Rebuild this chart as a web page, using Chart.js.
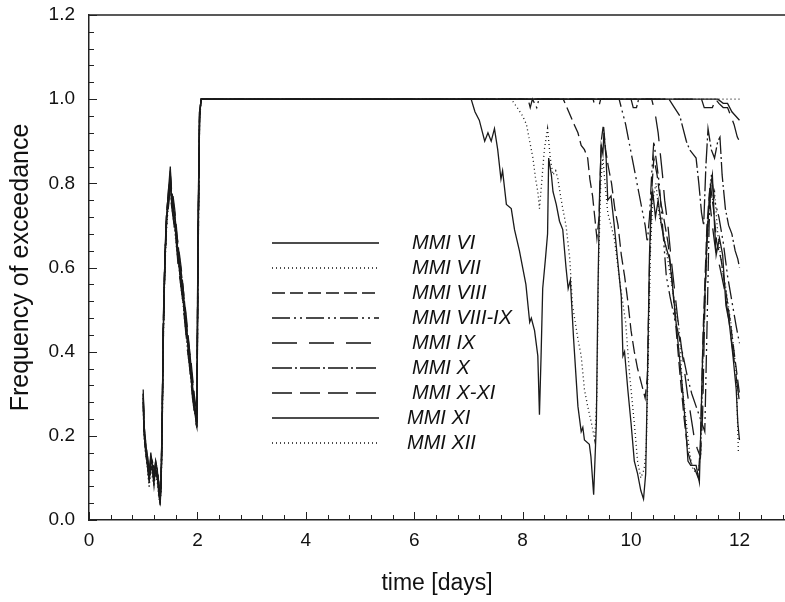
<!DOCTYPE html>
<html>
<head>
<meta charset="utf-8">
<script src="https://cdn.jsdelivr.net/npm/chart.js@4"></script>
<style>
  html, body { margin: 0; padding: 0; background: #fff; }
  #wrap { width: 785px; height: 602px; }
</style>
</head>
<body>
<div id="wrap"><canvas id="chart1" width="785" height="602"></canvas></div>
<script>
// tick labels
const xTickLabels = [0, 2, 4, 6, 8, 10, 12]
const yTickLabels = [0.0, 0.2, 0.4, 0.6, 0.8, 1.0, 1.2]

const seriesNames = ['MMI VI', 'MMI VII', 'MMI VIII', 'MMI VIII-IX', 'MMI IX', 'MMI X', 'MMI X-XI', 'MMI XI', 'MMI XII']

// first two days, shared time points
const earlyDays = [1.00,1.02,1.05,1.08,1.11,1.14,1.17,1.20,1.23,1.26,1.29,1.31,1.33,1.35,1.37,1.40,1.43,1.47,1.50,1.52,1.55,1.58,1.61,1.64,1.67,1.70,1.73,1.76,1.79,1.82,1.85,1.88,1.91,1.94,1.97,1.99,2.01,2.04,2.07]

const mmi6Early  = [0.31,0.21,0.18,0.14,0.10,0.16,0.13,0.11,0.14,0.12,0.07,0.04,0.09,0.25,0.45,0.62,0.72,0.79,0.84,0.77,0.75,0.72,0.68,0.64,0.61,0.58,0.55,0.50,0.47,0.43,0.40,0.36,0.32,0.28,0.24,0.22,0.70,0.97,1.00]
const mmi7Early  = [0.29,0.20,0.16,0.12,0.08,0.13,0.11,0.09,0.12,0.10,0.06,0.05,0.08,0.22,0.44,0.60,0.70,0.77,0.81,0.76,0.73,0.70,0.66,0.62,0.60,0.56,0.53,0.49,0.45,0.41,0.38,0.34,0.31,0.27,0.25,0.23,0.60,0.96,1.00]
const mmi8Early  = [0.28,0.22,0.17,0.15,0.11,0.14,0.14,0.12,0.13,0.11,0.09,0.06,0.10,0.24,0.46,0.63,0.73,0.78,0.82,0.79,0.76,0.73,0.69,0.66,0.62,0.59,0.56,0.52,0.48,0.44,0.41,0.37,0.33,0.29,0.26,0.24,0.65,0.97,1.00]
const mmi89Early = [0.30,0.20,0.15,0.13,0.09,0.15,0.12,0.10,0.13,0.12,0.08,0.05,0.09,0.23,0.43,0.61,0.71,0.76,0.80,0.78,0.74,0.71,0.67,0.63,0.60,0.57,0.54,0.51,0.46,0.42,0.39,0.35,0.30,0.27,0.25,0.23,0.62,0.96,1.00]
const mmi9Early  = [0.27,0.19,0.16,0.13,0.10,0.12,0.12,0.08,0.11,0.10,0.06,0.03,0.08,0.21,0.42,0.59,0.70,0.75,0.79,0.75,0.72,0.69,0.66,0.61,0.58,0.55,0.52,0.48,0.44,0.40,0.37,0.33,0.29,0.26,0.23,0.22,0.58,0.95,1.00]
const mmi10Early = [0.29,0.21,0.17,0.14,0.10,0.14,0.13,0.10,0.12,0.11,0.07,0.05,0.09,0.24,0.45,0.62,0.71,0.77,0.83,0.78,0.74,0.72,0.67,0.64,0.61,0.57,0.54,0.50,0.46,0.43,0.39,0.35,0.31,0.28,0.25,0.23,0.66,0.97,1.00]
const mmi1011Early = [0.30,0.22,0.18,0.15,0.11,0.15,0.14,0.11,0.14,0.12,0.08,0.06,0.10,0.25,0.47,0.63,0.72,0.79,0.82,0.77,0.77,0.74,0.70,0.65,0.63,0.60,0.56,0.52,0.49,0.45,0.41,0.38,0.34,0.30,0.27,0.25,0.68,0.97,1.00]
const mmi11Early = [0.28,0.20,0.16,0.13,0.09,0.13,0.12,0.09,0.12,0.10,0.07,0.04,0.08,0.22,0.44,0.61,0.71,0.78,0.81,0.76,0.73,0.70,0.67,0.63,0.59,0.56,0.53,0.49,0.45,0.42,0.38,0.34,0.30,0.27,0.24,0.22,0.60,0.96,1.00]
const mmi12Early = [0.26,0.19,0.15,0.12,0.08,0.12,0.10,0.08,0.11,0.09,0.05,0.04,0.07,0.21,0.42,0.60,0.69,0.76,0.80,0.75,0.72,0.69,0.65,0.62,0.59,0.55,0.52,0.48,0.44,0.40,0.37,0.33,0.29,0.26,0.24,0.22,0.57,0.95,1.00]

// after the plateau: [day, frequency]
const mmi6Late = [[7.05,1.00],[7.12,0.97],[7.20,0.95],[7.30,0.90],[7.36,0.92],[7.42,0.90],[7.48,0.93],[7.54,0.88],[7.60,0.81],[7.63,0.83],[7.70,0.75],[7.79,0.74],[7.85,0.69],[7.94,0.64],[8.06,0.56],[8.13,0.47],[8.16,0.48],[8.22,0.45],[8.28,0.39],[8.31,0.25],[8.34,0.39],[8.37,0.55],[8.42,0.62],[8.46,0.68],[8.48,0.86],[8.53,0.82],[8.56,0.78],[8.62,0.75],[8.68,0.71],[8.74,0.69],[8.80,0.60],[8.84,0.55],[8.88,0.57],[8.94,0.43],[9.02,0.27],[9.08,0.21],[9.11,0.22],[9.14,0.19],[9.23,0.18],[9.26,0.15],[9.31,0.06],[9.36,0.23],[9.39,0.55],[9.42,0.78],[9.45,0.89],[9.48,0.87],[9.50,0.92],[9.54,0.86],[9.57,0.76],[9.63,0.77],[9.69,0.70],[9.75,0.62],[9.82,0.53],[9.85,0.39],[9.88,0.40],[9.94,0.31],[10.00,0.23],[10.06,0.14],[10.12,0.11],[10.18,0.07],[10.23,0.05],[10.27,0.11],[10.31,0.39],[10.34,0.63],[10.37,0.74],[10.40,0.78],[10.45,0.72],[10.50,0.76],[10.56,0.70],[10.62,0.66],[10.71,0.62],[10.77,0.55],[10.83,0.47],[10.89,0.39],[10.95,0.31],[11.02,0.20],[11.05,0.14],[11.10,0.13],[11.20,0.13],[11.26,0.09],[11.29,0.23],[11.32,0.39],[11.39,0.63],[11.45,0.78],[11.50,0.82],[11.54,0.70],[11.57,0.63],[11.63,0.67],[11.69,0.63],[11.75,0.51],[11.81,0.47],[11.88,0.39],[11.94,0.31],[11.97,0.23],[12.00,0.19]]
const mmi7Late = [[7.79,1.00],[7.90,0.98],[8.00,0.96],[8.07,0.94],[8.13,0.90],[8.19,0.86],[8.24,0.81],[8.28,0.78],[8.31,0.74],[8.35,0.80],[8.40,0.88],[8.46,0.93],[8.51,0.86],[8.56,0.82],[8.61,0.83],[8.65,0.81],[8.70,0.77],[8.74,0.74],[8.80,0.70],[8.87,0.62],[8.92,0.51],[9.02,0.43],[9.08,0.39],[9.14,0.31],[9.20,0.27],[9.27,0.23],[9.33,0.19],[9.37,0.30],[9.40,0.60],[9.44,0.80],[9.48,0.86],[9.52,0.80],[9.57,0.73],[9.63,0.70],[9.69,0.67],[9.75,0.61],[9.81,0.55],[9.90,0.47],[9.97,0.35],[10.06,0.23],[10.12,0.14],[10.18,0.10],[10.24,0.12],[10.28,0.17],[10.32,0.40],[10.36,0.65],[10.40,0.76],[10.46,0.80],[10.52,0.72],[10.60,0.68],[10.70,0.60],[10.80,0.52],[10.89,0.45],[10.95,0.31],[11.02,0.23],[11.08,0.16],[11.14,0.12],[11.23,0.11],[11.29,0.16],[11.33,0.40],[11.37,0.55],[11.45,0.78],[11.50,0.76],[11.54,0.78],[11.60,0.68],[11.68,0.60],[11.75,0.55],[11.85,0.46],[11.94,0.35],[11.98,0.16]]
const mmi8Late = [[8.75,1.00],[8.85,0.97],[8.95,0.94],[9.02,0.92],[9.08,0.89],[9.14,0.88],[9.20,0.86],[9.24,0.81],[9.29,0.77],[9.33,0.72],[9.37,0.67],[9.41,0.72],[9.45,0.90],[9.49,0.94],[9.53,0.88],[9.58,0.84],[9.64,0.80],[9.70,0.74],[9.76,0.70],[9.82,0.63],[9.88,0.58],[9.94,0.52],[10.00,0.45],[10.06,0.40],[10.12,0.36],[10.20,0.32],[10.26,0.29],[10.30,0.34],[10.34,0.60],[10.38,0.78],[10.42,0.86],[10.48,0.82],[10.54,0.76],[10.60,0.72],[10.68,0.66],[10.75,0.58],[10.82,0.47],[10.90,0.35],[10.98,0.24],[11.05,0.16],[11.12,0.13],[11.18,0.12],[11.24,0.10],[11.28,0.18],[11.33,0.45],[11.40,0.70],[11.46,0.80],[11.52,0.74],[11.58,0.66],[11.66,0.62],[11.74,0.55],[11.82,0.48],[11.90,0.40],[11.97,0.33],[12.00,0.30]]
const mmi89Late = [[8.10,1.00],[8.14,0.98],[8.18,1.00],[8.26,0.98],[8.30,1.00],[9.78,1.00],[9.84,0.97],[9.90,0.94],[9.96,0.90],[10.02,0.86],[10.08,0.82],[10.14,0.78],[10.20,0.74],[10.26,0.70],[10.30,0.66],[10.34,0.72],[10.38,0.82],[10.42,0.90],[10.46,0.86],[10.52,0.80],[10.58,0.70],[10.65,0.58],[10.72,0.53],[10.80,0.48],[10.88,0.44],[10.96,0.39],[11.04,0.34],[11.12,0.30],[11.20,0.27],[11.28,0.24],[11.36,0.21],[11.40,0.45],[11.44,0.70],[11.48,0.82],[11.54,0.76],[11.62,0.72],[11.70,0.66],[11.78,0.58],[11.86,0.52],[11.94,0.46],[12.00,0.42]]
const mmi9Late = [[9.30,1.00],[9.34,0.98],[9.40,0.98],[9.44,1.00],[10.38,1.00],[10.44,0.97],[10.50,0.92],[10.54,0.87],[10.58,0.82],[10.62,0.76],[10.68,0.70],[10.74,0.62],[10.80,0.55],[10.86,0.48],[10.92,0.42],[10.98,0.36],[11.04,0.30],[11.10,0.25],[11.16,0.20],[11.22,0.17],[11.28,0.15],[11.32,0.25],[11.36,0.50],[11.40,0.68],[11.45,0.76],[11.50,0.70],[11.56,0.64],[11.64,0.60],[11.72,0.55],[11.80,0.48],[11.88,0.40],[11.95,0.33],[12.00,0.28]]
const mmi10Late = [[10.00,1.00],[10.04,0.98],[10.10,0.98],[10.14,1.00],[10.70,1.00],[10.80,0.98],[10.90,0.96],[10.96,0.93],[11.02,0.90],[11.08,0.88],[11.14,0.87],[11.20,0.86],[11.25,0.80],[11.30,0.73],[11.34,0.70],[11.38,0.84],[11.42,0.93],[11.48,0.88],[11.54,0.86],[11.60,0.90],[11.64,0.91],[11.68,0.82],[11.74,0.74],[11.80,0.70],[11.86,0.68],[11.92,0.64],[11.97,0.62],[12.00,0.60]]
const mmi1011Late = [[11.30,1.00],[11.35,0.98],[11.50,0.98],[11.56,1.00],[11.62,0.99],[11.70,0.98],[11.78,0.98],[11.84,0.96],[11.90,0.94],[11.96,0.91],[12.00,0.90]]
const mmi11Late = [[11.60,1.00],[11.70,0.99],[11.78,0.99],[11.86,0.97],[11.93,0.96],[12.00,0.95]]
const mmi12Late = [[12.00,1.00]]

const earlyValues = [mmi6Early, mmi7Early, mmi8Early, mmi89Early, mmi9Early, mmi10Early, mmi1011Early, mmi11Early, mmi12Early]
const lateValues = [mmi6Late, mmi7Late, mmi8Late, mmi89Late, mmi9Late, mmi10Late, mmi1011Late, mmi11Late, mmi12Late]

const dashes = [[], [1, 3], [13, 5], [18, 4, 2, 4, 2, 4], [25, 12], [20, 3, 2, 3], [20, 8], [], [1, 3]]

const FONT = "'Liberation Sans', Arial, sans-serif"

function buildPoints(early, late) {
    let pts = earlyDays.map((d, i) => ({ x: d, y: early[i] }))
    late.forEach(p => pts.push({ x: p[0], y: p[1] }))
    return pts
}

// inward ticks, top frame line, legend inside the plot
const decorations = {
    id: 'decorations',
    afterDraw(chart) {
        const ctx = chart.ctx
        const a = chart.chartArea
        const xs = chart.scales.x
        const ys = chart.scales.y
        ctx.save()
        ctx.strokeStyle = '#222'
        ctx.lineWidth = 1.5
        ctx.beginPath()
        ctx.moveTo(a.left, a.top)
        ctx.lineTo(a.right, a.top)
        ctx.stroke()

        ctx.lineWidth = 1
        for (let i = 0; i * 0.4 <= 12.8; i++) {
            const px = Math.round(xs.getPixelForValue(i * 0.4)) + 0.5
            const len = i % 5 === 0 ? 8 : 5
            ctx.beginPath()
            ctx.moveTo(px, a.bottom)
            ctx.lineTo(px, a.bottom - len)
            ctx.stroke()
        }
        for (let i = 0; i <= 30; i++) {
            const py = Math.round(ys.getPixelForValue(i * 0.04)) + 0.5
            const len = i % 5 === 0 ? 8 : 5
            ctx.beginPath()
            ctx.moveTo(a.left, py)
            ctx.lineTo(a.left + len, py)
            ctx.stroke()
        }

        // legend
        ctx.font = 'italic 20px ' + FONT
        ctx.textBaseline = 'middle'
        ctx.fillStyle = '#111'
        chart.data.datasets.forEach((ds, i) => {
            const y = 243 + i * 25
            ctx.strokeStyle = '#111'
            ctx.lineWidth = 1.5
            ctx.setLineDash(ds.borderDash)
            ctx.beginPath()
            ctx.moveTo(272, y)
            ctx.lineTo(379, y)
            ctx.stroke()
            ctx.setLineDash([])
            ctx.fillText(ds.label, i >= 7 ? 407 : 412, y)
        })
        ctx.restore()
    }
}

function renderChart() {
    const ctx = document.querySelector('#chart1').getContext('2d')

    const datasets = seriesNames.map((name, i) => ({
        label: name,
        data: buildPoints(earlyValues[i], lateValues[i]),
        borderColor: '#1a1a1a',
        borderWidth: 1.3,
        borderDash: dashes[i],
        pointRadius: 0,
        tension: 0,
        fill: false
    }))

    const chart = new Chart(ctx, {
        type: 'line',
        data: { datasets: datasets },
        options: {
            responsive: false,
            animation: false,
            events: [],
            layout: { padding: { top: 15, right: 0, left: 0, bottom: 0 } },
            plugins: { legend: { display: false }, tooltip: { enabled: false } },
            scales: {
                x: {
                    type: 'linear',
                    min: 0,
                    max: 12.84,
                    grid: { display: false, drawTicks: false },
                    border: { display: true, color: '#222', width: 1.5 },
                    afterBuildTicks: s => { s.ticks = xTickLabels.map(v => ({ value: v })) },
                    afterFit: s => { s.height = 82 },
                    ticks: {
                        padding: 9,
                        color: '#111',
                        font: { family: FONT, size: 19 },
                        maxRotation: 0,
                        callback: v => String(v)
                    },
                    title: {
                        display: true,
                        text: 'time [days]',
                        color: '#111',
                        font: { family: FONT, size: 23, lineHeight: 1.2 },
                        padding: { top: 0, bottom: 5 }
                    }
                },
                y: {
                    min: 0,
                    max: 1.2,
                    grid: { display: false, drawTicks: true, tickLength: 11, tickColor: 'rgba(0,0,0,0)' },
                    border: { display: true, color: '#222', width: 1.5 },
                    afterBuildTicks: s => { s.ticks = yTickLabels.map(v => ({ value: v })) },
                    afterFit: s => { s.width = 89 },
                    ticks: {
                        padding: 3,
                        color: '#111',
                        font: { family: FONT, size: 19 },
                        callback: v => Number(v).toFixed(1)
                    },
                    title: {
                        display: true,
                        text: 'Frequency of exceedance',
                        color: '#111',
                        font: { family: FONT, size: 25, lineHeight: 1.2 },
                        padding: { top: 6, bottom: 0 }
                    }
                }
            }
        },
        plugins: [decorations]
    })
}

renderChart()
</script>
</body>
</html>
